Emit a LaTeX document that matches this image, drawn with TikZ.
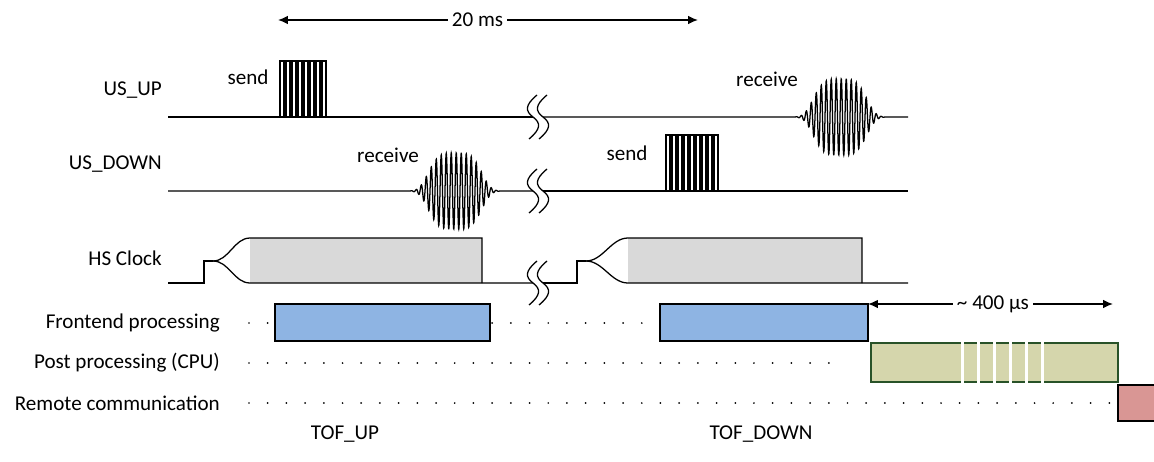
\documentclass[tikz,border=0pt]{standalone}
\usepackage{fontspec}
\setmainfont{Carlito}
\usepackage{tikz}
\usetikzlibrary{arrows.meta}
\definecolor{feblue}{RGB}{142,180,227}
\definecolor{postgreen}{RGB}{213,214,172}
\definecolor{postline}{RGB}{40,82,40}
\definecolor{remred}{RGB}{217,150,148}
\definecolor{clkgray}{RGB}{217,217,217}
\tikzset{
  sig/.style={line width=0.9pt},
  lbl/.style={font=\fontsize{15}{18}\selectfont, inner sep=0pt},
  dimarrow/.style={line width=0.9pt, {Latex[length=7pt,width=6pt]}-{Latex[length=7pt,width=6pt]}},
  rowdots/.style={line width=1.4pt, line cap=round, dash pattern=on 0pt off 13.3pt},
  tbreak/.pic={
    \draw[sig] (-1,-22) .. controls (-13,-12) and (-13,-6) .. (-5,0) .. controls (3,6) and (3,12) .. (-9,22);
    \draw[sig] (9,-22) .. controls (-3,-12) and (-3,-6) .. (5,0) .. controls (13,6) and (13,12) .. (1,22);
  }
}
\begin{document}
\begin{tikzpicture}[x=0.025cm,y=-0.025cm]
\useasboundingbox (0,0) rectangle (1154,461);

\node[lbl, anchor=east] (usup) at (162,90) {US\_UP};
\node[lbl, anchor=east] (usdown) at (162,164) {US\_DOWN};
\node[lbl, anchor=east] (hsclk) at (162,258) {HS Clock};
\node[lbl, anchor=east] (fe) at (220,323) {Frontend processing};
\node[lbl, anchor=east] (post) at (220,363) {Post processing (CPU)};
\node[lbl, anchor=east] (remote) at (220,403) {Remote communication};

% 20 ms
\coordinate (msl) at (278,20);
\coordinate (msr) at (698,20);
\draw[dimarrow] (msl) -- (msr) node[lbl, pos=0.475, fill=white, inner xsep=3pt, inner ysep=1pt] (ms) {20 ms};

% US_UP
\draw[sig] (168,117) -- (533,117);
\foreach \i in {0,...,7}
  \draw[sig] ({280+\i*6},117) -- ++(0,-56) -- ++(4,0) -- ++(0,56);
\node[lbl] (sendup) at (248,77) {send};
\pic at (538,117) {tbreak};
\draw[sig] (543,117) -- plot[domain=-48:48, samples=600] ({840+\x},{117-38*exp(-(\x/29)*(\x/29)*(\x/29)*(\x/29))*sin(72*\x)}) -- (908,117);
\node[lbl] (recup) at (767,79) {receive};

% US_DOWN
\draw[sig] (168,191) -- plot[domain=-48:48, samples=600] ({455+\x},{191-38*exp(-(\x/29)*(\x/29)*(\x/29)*(\x/29))*sin(72*\x)}) -- (533,191);
\node[lbl] (recdown) at (388,155) {receive};
\pic at (538,191) {tbreak};
\draw[sig] (543,191) -- (908,191);
\foreach \i in {0,...,8}
  \draw[sig] ({666+\i*6},191) -- ++(0,-56) -- ++(4,0) -- ++(0,56);
\node[lbl] (senddown) at (627,153) {send};

% HS Clock
\fill[clkgray] (250,238) rectangle (482,283);
\fill[clkgray] (628,238) rectangle (862,283);
\draw[sig] (168,283) -- (204,283) -- (204,261) -- (213,261);
\draw[sig] (213,261) .. controls (229,261) and (234,238) .. (250,238) -- (482,238) -- (482,283);
\draw[sig] (213,261) .. controls (229,261) and (234,283) .. (250,283) -- (533,283);
\pic at (538,283) {tbreak};
\draw[sig] (543,283) -- (577,283) -- (577,261) -- (586,261);
\draw[sig] (586,261) .. controls (603,261) and (611,238) .. (628,238) -- (862,238) -- (862,283);
\draw[sig] (586,261) .. controls (603,261) and (611,283) .. (628,283) -- (908,283);

% rows
\draw[rowdots] (249,323) -- (660,323);
\draw[rowdots] (249,363) -- (840,363);
\draw[rowdots] (249,403) -- (1112,403);

\draw[sig, fill=feblue] (275,304) rectangle (490,341);
\draw[sig, fill=feblue] (660,304) rectangle (868,341);
\draw[sig, draw=postline, fill=postgreen] (871,343) rectangle (1118,382);
\foreach \sx in {962,978,994,1010,1026,1042}
  \fill[white] (\sx-1.5,340) rectangle (\sx+1.5,385);
\draw[sig, fill=remred] (1118,385) rectangle (1160,421);

% 400 us
\coordinate (usl) at (868,304);
\coordinate (usr) at (1113,304);
\draw[dimarrow] (usl) -- (usr) node[lbl, pos=0.51, fill=white, inner xsep=3pt, inner ysep=1pt] (us) {\textasciitilde{} 400 µs};

\node[lbl] (tofup) at (345,434) {TOF\_UP};
\node[lbl] (tofdown) at (761,434) {TOF\_DOWN};
\end{tikzpicture}
\end{document}
